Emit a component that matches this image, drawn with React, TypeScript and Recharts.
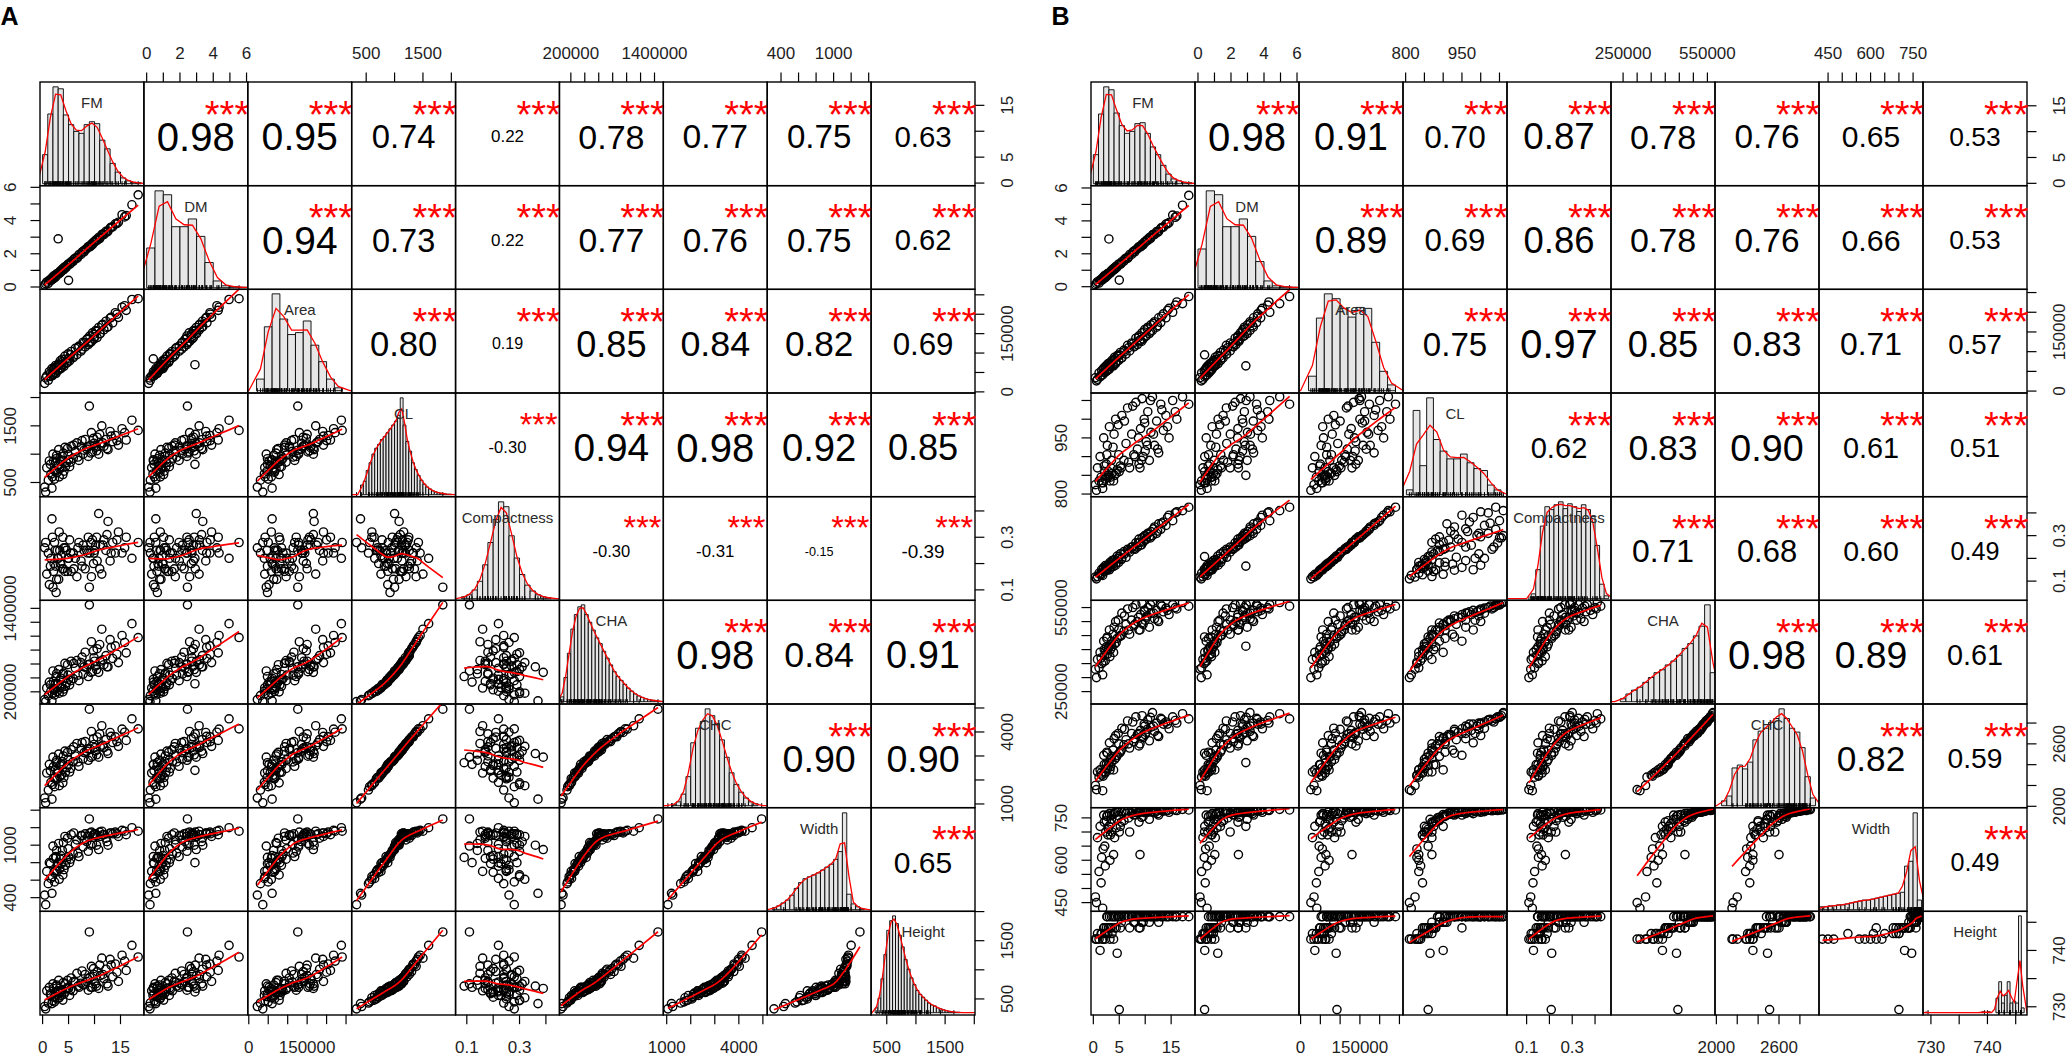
import React from 'react'
import { ScatterChart, Scatter, XAxis, YAxis, ReferenceArea } from 'recharts'

const FONT = '"Liberation Sans", Arial, Helvetica, sans-serif'

// ---------- data ----------
const varNames = ['FM', 'DM', 'Area', 'CL', 'Compactness', 'CHA', 'CHC', 'Width', 'Height']

// fresh / dry mass (same objects in A and B)
const fm = [
  0.4, 0.8, 1.1, 1.3, 1.6, 1.8, 2.0, 2.2, 2.3, 2.5,
  2.6, 2.8, 2.9, 3.1, 3.2, 3.4, 3.6, 3.8, 4.1, 4.3,
  4.6, 4.9, 5.2, 5.5, 5.9, 6.3, 6.6, 7.0, 7.4, 7.8,
  8.2, 8.5, 8.8, 9.1, 9.4, 9.6, 9.9, 10.2, 10.5, 10.8,
  11.1, 11.4, 11.8, 12.2, 12.6, 13.0, 13.5, 14.0, 14.6, 15.3,
  16.1, 17.2, 18.4, 3.0, 5.0, 9.0,
  1.5, 1.9, 2.1, 2.4, 2.7, 3.3, 3.5, 3.9, 4.0, 4.4,
  4.8, 5.4, 6.0, 6.8, 7.6, 8.0, 8.7, 9.3, 9.8, 10.0,
  10.4, 11.0, 11.6, 12.4, 13.2, 14.3, 15.8, 0.6,
]
const dm = [
  0.12, 0.30, 0.22, 0.41, 0.38, 0.55, 0.50, 0.68, 0.55, 0.72,
  0.64, 0.80, 0.74, 0.86, 0.82, 0.95, 0.93, 1.08, 1.05, 1.22,
  1.20, 1.38, 1.36, 1.52, 1.55, 1.74, 1.72, 1.95, 1.96, 2.15,
  2.25, 2.30, 2.42, 2.42, 2.58, 2.55, 2.72, 2.80, 2.81, 2.98,
  3.00, 3.15, 3.16, 3.35, 3.37, 3.55, 3.62, 3.80, 3.90, 4.35,
  4.30, 4.95, 5.55, 2.90, 0.40, 2.45,
  0.44, 0.46, 0.62, 0.60, 0.78, 0.84, 0.98, 1.02, 1.12, 1.15,
  1.32, 1.42, 1.66, 1.80, 2.10, 2.12, 2.40, 2.48, 2.68, 2.70,
  2.86, 2.92, 3.18, 3.30, 3.60, 3.82, 4.22, 0.20,
]

// panel A measurements
const areaA = [
  22000, 41000, 30000, 52000, 40000, 60000, 45000, 62000, 50000, 68000,
  48000, 66000, 55000, 72000, 58000, 80000, 62000, 84000, 66000, 92000,
  74000, 98000, 80000, 104000, 88000, 112000, 96000, 118000, 105000, 128000,
  116000, 135000, 122000, 144000, 130000, 152000, 136000, 158000, 140000, 166000,
  150000, 172000, 160000, 182000, 168000, 190000, 178000, 204000, 192000, 218000,
  210000, 238000, 240000, 70000, 85000, 126000,
  48000, 42000, 58000, 47000, 64000, 70000, 60000, 78000, 70000, 84000,
  76000, 96000, 92000, 114000, 110000, 126000, 138000, 128000, 148000, 142000,
  156000, 150000, 174000, 166000, 192000, 200000, 222000, 36000,
]
const clA = [
  420, 760, 540, 880, 650, 400, 1000, 720, 560, 850,
  920, 680, 790, 1080, 600, 870, 760, 960, 700, 1120,
  850, 990, 780, 1140, 930, 1050, 1200, 890, 1130, 1000,
  1260, 1090, 960, 1150, 1380, 1040, 1190, 1120, 1300, 1000,
  1180, 1500, 1140, 1260, 1080, 1400, 1220, 1330, 1160, 1450,
  1250, 1600, 1420, 820, 900, 1850,
  820, 600, 880, 700, 980, 740, 900, 640, 1020, 780,
  1100, 860, 1160, 950, 1240, 1070, 1130, 1020, 1280, 1150,
  1060, 1350, 1200, 1100, 1320, 1240, 1380, 330,
]
const compA = [
  0.26, 0.16, 0.24, 0.12, 0.22, 0.37, 0.11, 0.20, 0.28, 0.19,
  0.09, 0.25, 0.22, 0.14, 0.32, 0.20, 0.23, 0.18, 0.26, 0.17,
  0.25, 0.22, 0.29, 0.17, 0.24, 0.22, 0.15, 0.28, 0.21, 0.27,
  0.18, 0.25, 0.30, 0.24, 0.15, 0.29, 0.24, 0.27, 0.21, 0.39,
  0.27, 0.16, 0.29, 0.25, 0.36, 0.21, 0.28, 0.24, 0.32, 0.24,
  0.30, 0.22, 0.28, 0.22, 0.22, 0.11,
  0.19, 0.30, 0.17, 0.25, 0.14, 0.25, 0.20, 0.30, 0.18, 0.26,
  0.17, 0.24, 0.18, 0.26, 0.19, 0.25, 0.24, 0.28, 0.20, 0.25,
  0.30, 0.18, 0.27, 0.31, 0.24, 0.29, 0.26, 0.28,
]
const chaA = [
  88000, 255000, 145000, 340000, 210000, 70000, 500000, 230000, 155000, 320000,
  420000, 205000, 310000, 520000, 180000, 370000, 260000, 450000, 240000, 610000,
  330000, 440000, 300000, 640000, 390000, 540000, 650000, 360000, 620000, 455000,
  770000, 540000, 420000, 600000, 920000, 490000, 690000, 570000, 820000, 480000,
  640000, 1100000, 590000, 720000, 560000, 950000, 680000, 860000, 620000, 1010000,
  760000, 1180000, 980000, 316000, 380000, 1450000,
  300000, 175000, 350000, 240000, 460000, 265000, 395000, 200000, 470000, 280000,
  590000, 360000, 610000, 440000, 700000, 560000, 590000, 480000, 790000, 640000,
  520000, 880000, 660000, 560000, 840000, 740000, 910000, 60000,
]
const chcA = [
  1250, 2290, 1580, 2650, 1900, 1200, 2950, 2080, 1720, 2440,
  2720, 2050, 2290, 3080, 1760, 2600, 2200, 2760, 2110, 3200,
  2520, 2850, 2330, 3260, 2760, 3000, 3520, 2570, 3320, 2880,
  3600, 3200, 2820, 3290, 4020, 2990, 3480, 3210, 3790, 2950,
  3380, 4260, 3350, 3680, 3100, 3980, 3560, 3800, 3400, 4120,
  3650, 4550, 4130, 2400, 2640, 4950,
  2380, 1810, 2560, 2100, 2820, 2150, 2660, 1880, 3000, 2320,
  3150, 2480, 3380, 2750, 3560, 3140, 3300, 2940, 3720, 3350,
  3050, 3920, 3450, 3200, 3820, 3600, 3990, 1050,
]
const widthA = [
  430, 700, 560, 800, 620, 450, 990, 690, 580, 870,
  860, 700, 760, 1020, 610, 840, 790, 940, 720, 1100,
  830, 960, 800, 1120, 900, 1010, 1060, 870, 1110, 980,
  1130, 1040, 930, 1140, 1150, 1020, 1090, 1130, 1110, 950,
  1100, 1160, 1120, 1080, 1000, 1140, 1130, 1150, 1100, 1170,
  1120, 1200, 1160, 800, 870, 1300,
  790, 640, 850, 710, 940, 730, 880, 660, 1030, 770,
  1080, 840, 1140, 910, 1110, 1060, 1100, 1000, 1120, 1130,
  1000, 1150, 1120, 1040, 1140, 1130, 1160, 320,
]
const heightA = [
  370, 640, 430, 700, 560, 420, 760, 530, 450, 610,
  720, 500, 640, 820, 520, 610, 560, 660, 580, 760,
  680, 690, 560, 860, 640, 790, 940, 700, 770, 750,
  920, 800, 650, 870, 1060, 700, 920, 760, 970, 680,
  900, 1200, 850, 1010, 720, 1180, 880, 1100, 800, 1250,
  990, 1420, 1220, 620, 680, 1650,
  590, 470, 680, 540, 740, 600, 630, 480, 780, 620,
  820, 660, 800, 720, 980, 740, 850, 700, 1020, 800,
  720, 1080, 920, 760, 1080, 960, 1150, 330,
]

// panel B measurements
const areaB = [
  34000, 30000, 46000, 36000, 52000, 41000, 58000, 47000, 62000, 50000,
  66000, 54000, 70000, 56000, 72000, 62000, 78000, 66000, 86000, 70000,
  90000, 78000, 98000, 84000, 104000, 94000, 116000, 102000, 122000, 112000,
  134000, 118000, 140000, 128000, 148000, 132000, 156000, 140000, 162000, 146000,
  168000, 154000, 176000, 162000, 186000, 174000, 196000, 186000, 210000, 200000,
  226000, 222000, 240000, 64000, 92000, 130000,
  40000, 55000, 48000, 60000, 52000, 68000, 74000, 64000, 80000, 74000,
  88000, 84000, 100000, 110000, 120000, 114000, 136000, 126000, 150000, 138000,
  158000, 150000, 172000, 166000, 190000, 205000, 218000, 26000,
]
const clB = [
  825, 870, 835, 900, 830, 815, 950, 860, 840, 880,
  905, 845, 860, 980, 835, 870, 855, 925, 850, 1000,
  865, 905, 875, 1010, 890, 935, 1030, 870, 960, 905,
  1045, 920, 880, 975, 1055, 900, 990, 940, 1020, 890,
  965, 1060, 930, 995, 910, 1040, 970, 1010, 950, 1050,
  1000, 1060, 1040, 850, 860, 870,
  845, 830, 875, 850, 930, 845, 890, 835, 960, 855,
  985, 870, 995, 885, 1035, 900, 950, 890, 1000, 915,
  930, 1050, 960, 920, 1025, 980, 1020, 810,
]
const compB = [
  0.118, 0.120, 0.135, 0.130, 0.152, 0.125, 0.160, 0.145, 0.168, 0.150,
  0.165, 0.155, 0.172, 0.150, 0.182, 0.160, 0.190, 0.175, 0.195, 0.170,
  0.210, 0.183, 0.220, 0.200, 0.230, 0.205, 0.240, 0.228, 0.250, 0.243,
  0.268, 0.250, 0.285, 0.258, 0.290, 0.272, 0.300, 0.285, 0.310, 0.295,
  0.318, 0.300, 0.338, 0.310, 0.352, 0.328, 0.360, 0.345, 0.390, 0.366,
  0.405, 0.410, 0.425, 0.166, 0.208, 0.270,
  0.128, 0.152, 0.142, 0.160, 0.148, 0.172, 0.180, 0.165, 0.190, 0.180,
  0.200, 0.195, 0.220, 0.235, 0.250, 0.240, 0.270, 0.260, 0.295, 0.280,
  0.305, 0.290, 0.330, 0.320, 0.355, 0.380, 0.400, 0.110,
]
const chaB = [
  330000, 365000, 335000, 390000, 350000, 310000, 430000, 380000, 360000, 410000,
  440000, 385000, 405000, 470000, 375000, 420000, 410000, 455000, 420000, 500000,
  440000, 470000, 450000, 530000, 465000, 490000, 545000, 455000, 505000, 485000,
  560000, 500000, 470000, 525000, 565000, 490000, 535000, 515000, 550000, 480000,
  530000, 570000, 510000, 540000, 500000, 560000, 535000, 548000, 525000, 560000,
  545000, 568000, 555000, 412000, 445000, 470000,
  370000, 355000, 400000, 395000, 445000, 400000, 430000, 390000, 480000, 425000,
  505000, 450000, 520000, 470000, 550000, 490000, 515000, 495000, 540000, 505000,
  520000, 560000, 530000, 505000, 555000, 540000, 550000, 300000,
]
const chcB = [
  2200, 2330, 2280, 2350, 2300, 2150, 2490, 2330, 2320, 2400,
  2520, 2370, 2390, 2610, 2350, 2460, 2430, 2540, 2450, 2680,
  2490, 2600, 2520, 2750, 2590, 2640, 2820, 2560, 2700, 2620,
  2860, 2690, 2580, 2730, 2870, 2660, 2770, 2710, 2830, 2630,
  2760, 2900, 2720, 2800, 2670, 2845, 2790, 2810, 2745, 2860,
  2800, 2890, 2840, 2420, 2510, 2600,
  2320, 2290, 2400, 2360, 2510, 2380, 2480, 2350, 2650, 2470,
  2700, 2540, 2740, 2600, 2810, 2650, 2700, 2670, 2790, 2690,
  2740, 2855, 2770, 2680, 2835, 2790, 2825, 2160,
]
const widthB = [
  470, 680, 560, 720, 610, 430, 760, 650, 580, 740,
  755, 690, 710, 765, 600, 730, 700, 762, 680, 770,
  745, 758, 720, 772, 740, 765, 775, 700, 766, 760,
  776, 768, 735, 770, 778, 755, 772, 770, 777, 745,
  771, 779, 768, 774, 760, 778, 774, 776, 770, 779,
  776, 780, 778, 720, 700, 620,
  520, 640, 735, 700, 760, 690, 745, 620, 766, 715,
  772, 735, 774, 750, 777, 762, 770, 752, 775, 768,
  770, 778, 773, 765, 777, 776, 778, 450,
]
const heightB = [
  742, 743, 742, 740, 743, 742, 744, 743, 742, 744,
  746, 743, 744, 746, 742, 744, 743, 746, 744, 746,
  739.5, 746, 744, 746, 746, 746, 746, 744, 746, 745,
  746, 746, 744, 746, 746, 745, 746, 746, 746, 745,
  746, 746, 746, 746, 745, 746, 746, 746, 746, 746,
  746, 746, 746, 744, 729.5, 744,
  743, 742, 744, 743, 746, 744, 746, 742, 746, 744,
  746, 745, 746, 746, 746, 745, 746, 745, 746, 746,
  746, 746, 746, 746, 746, 746, 746, 742,
]

// axis ranges, ticks and printed tick labels
const domainsA = [
  [-0.5, 19.5], [-0.16, 6.08], [-2000, 265000], [250, 2080], [0.059, 0.453],
  [30000, 1520000], [846, 5166], [240, 1425], [230, 2010],
]
const ticksA = [
  [0, 5, 10, 15], [0, 1, 2, 3, 4, 5, 6], [0, 50000, 100000, 150000, 200000, 250000],
  [500, 1000, 1500, 2000], [0.1, 0.2, 0.3, 0.4],
  [200000, 400000, 600000, 800000, 1000000, 1200000, 1400000],
  [1000, 2000, 3000, 4000, 5000], [400, 600, 800, 1000, 1200, 1400], [500, 1000, 1500, 2000],
]
const tickLabelsA = [
  [0, 5, 15], [0, 2, 4, 6], [0, 150000], [500, 1500], [0.1, 0.3],
  [200000, 1400000], [1000, 4000], [400, 1000], [500, 1500],
]
const domainsB = [
  [-0.45, 19.6], [-0.18, 6.12], [-4000, 259000], [793, 1070], [0.014, 0.47],
  [207000, 577000], [1987, 2983], [418, 785], [728.6, 747],
]
const ticksB = [
  [0, 5, 10, 15], [0, 1, 2, 3, 4, 5, 6], [0, 50000, 100000, 150000, 200000, 250000],
  [800, 850, 900, 950, 1000, 1050], [0.1, 0.2, 0.3, 0.4],
  [250000, 300000, 350000, 400000, 450000, 500000, 550000],
  [2000, 2200, 2400, 2600, 2800], [450, 500, 550, 600, 650, 700, 750], [730, 735, 740, 745],
]
const tickLabelsB = [
  [0, 5, 15], [0, 2, 4, 6], [0, 150000], [800, 950], [0.1, 0.3],
  [250000, 550000], [2000, 2600], [450, 600, 750], [730, 740],
]

// correlations, upper triangle, row by row
const corA = [
  [0.98, 0.95, 0.74, 0.22, 0.78, 0.77, 0.75, 0.63],
  [0.94, 0.73, 0.22, 0.77, 0.76, 0.75, 0.62],
  [0.80, 0.19, 0.85, 0.84, 0.82, 0.69],
  [-0.30, 0.94, 0.98, 0.92, 0.85],
  [-0.30, -0.31, -0.15, -0.39],
  [0.98, 0.84, 0.91],
  [0.90, 0.90],
  [0.65],
]
const corB = [
  [0.98, 0.91, 0.70, 0.87, 0.78, 0.76, 0.65, 0.53],
  [0.89, 0.69, 0.86, 0.78, 0.76, 0.66, 0.53],
  [0.75, 0.97, 0.85, 0.83, 0.71, 0.57],
  [0.62, 0.83, 0.90, 0.61, 0.51],
  [0.71, 0.68, 0.60, 0.49],
  [0.98, 0.89, 0.61],
  [0.82, 0.59],
  [0.49],
]
const signif = '***'

// histograms on the diagonal (first break, bin width, relative heights)
const histStartA = [0, 0, 20000, 400, 0.08, 50000, 1200, 300, 300]
const histWidthA = [1, 0.5, 20000, 50, 0.02, 50000, 200, 50, 50]
const histA = [
  [0.3, 0.72, 1.0, 0.98, 0.71, 0.61, 0.54, 0.52, 0.61, 0.64, 0.62, 0.45, 0.36, 0.21, 0.12, 0.06, 0.03, 0.015, 0.01],
  [0.41, 1.0, 0.96, 0.63, 0.63, 0.71, 0.53, 0.26, 0.07, 0.02, 0.01, 0.005],
  [0.12, 0.66, 1.0, 0.74, 0.58, 0.6, 0.72, 0.47, 0.3, 0.12, 0.03],
  [0.1, 0.14, 0.25, 0.33, 0.42, 0.48, 0.52, 0.57, 0.6, 0.64, 0.68, 0.72, 0.76, 0.82, 1.0, 0.72,
    0.55, 0.45, 0.33, 0.26, 0.2, 0.15, 0.11, 0.08, 0.06, 0.04, 0.03, 0.02, 0.015, 0.01, 0.005, 0.005],
  [0.02, 0.04, 0.09, 0.18, 0.35, 0.58, 0.82, 1.0, 0.95, 0.65, 0.42, 0.25, 0.14, 0.08, 0.04, 0.02, 0.01],
  [0.05, 0.25, 0.5, 0.75, 0.9, 0.98, 1.0, 0.9, 0.82, 0.74, 0.66, 0.6, 0.52, 0.45, 0.38, 0.31, 0.26,
    0.22, 0.18, 0.14, 0.11, 0.08, 0.06, 0.045, 0.03, 0.02, 0.015, 0.01, 0.005],
  [0.01, 0.04, 0.12, 0.3, 0.65, 0.8, 0.87, 1.0, 0.93, 0.85, 0.68, 0.5, 0.34, 0.22, 0.14, 0.08, 0.04, 0.02],
  [0.02, 0.04, 0.07, 0.1, 0.15, 0.22, 0.28, 0.32, 0.34, 0.36, 0.38, 0.41, 0.44, 0.47, 0.52, 0.6, 1.0, 0.16, 0.06, 0.03, 0.01],
  [0.05, 0.15, 0.35, 0.6, 0.85, 0.95, 1.0, 0.92, 0.8, 0.68, 0.55, 0.45, 0.36, 0.29, 0.23, 0.19, 0.16,
    0.13, 0.1, 0.08, 0.07, 0.05, 0.04, 0.03, 0.02, 0.015, 0.01, 0.005, 0.005],
]
const histStartB = [0, 0, 20000, 802, 0.12, 240000, 2050, 420, 728.5]
const histWidthB = [1, 0.5, 20000, 18, 0.02, 20000, 50, 15, 0.5]
const histB = [
  [0.3, 0.72, 1.0, 0.97, 0.73, 0.6, 0.52, 0.54, 0.62, 0.63, 0.52, 0.38, 0.3, 0.19, 0.1, 0.05, 0.03, 0.015, 0.01],
  [0.4, 1.0, 0.96, 0.63, 0.63, 0.71, 0.53, 0.27, 0.07, 0.02, 0.01, 0.005],
  [0.15, 0.75, 1.0, 0.95, 0.85, 0.76, 0.86, 0.85, 0.5, 0.2, 0.06],
  [0.05, 0.87, 0.3, 1.0, 0.57, 0.45, 0.37, 0.37, 0.42, 0.33, 0.27, 0.25, 0.1, 0.05],
  [0.05, 0.3, 0.75, 0.95, 0.92, 0.97, 1.0, 0.93, 0.98, 0.95, 0.9, 0.97, 0.92, 0.85, 0.55, 0.15, 0.03],
  [0.03, 0.08, 0.12, 0.15, 0.2, 0.25, 0.3, 0.33, 0.38, 0.42, 0.48, 0.55, 0.6, 0.68, 0.78, 1.0, 0.3],
  [0.05, 0.1, 0.39, 0.42, 0.38, 0.45, 0.68, 0.77, 0.8, 0.86, 0.9, 1.0, 0.9, 0.8, 0.76, 0.6, 0.3, 0.08],
  [0.03, 0.03, 0.04, 0.04, 0.05, 0.05, 0.06, 0.07, 0.08, 0.09, 0.1, 0.1, 0.11, 0.12, 0.13, 0.14,
    0.15, 0.16, 0.17, 0.18, 0.45, 0.5, 1.0, 0.1],
  [0, 0.005, 0, 0, 0, 0, 0, 0, 0, 0, 0, 0, 0, 0, 0, 0, 0, 0, 0, 0,
    0, 0.01, 0, 0.01, 0, 0, 0.15, 0.32, 0.1, 0.18, 0.32, 0.1, 0.12, 0.1, 1.0, 0.05],
]

// ---------- layout ----------
type Matrix = {
  letter: string
  letterX: number
  left: number
  top: number
  cw: number
  ch: number
  obs: number[][]
  domains: number[][]
  ticks: number[][]
  tickLabels: number[][]
  cor: number[][]
  histStart: number[]
  histWidth: number[]
  hist: number[][]
}

const matrixA: Matrix = {
  letter: 'A', letterX: 0.5, left: 40, top: 82, cw: 935 / 9, ch: 933 / 9,
  obs: [fm, dm, areaA, clA, compA, chaA, chcA, widthA, heightA],
  domains: domainsA, ticks: ticksA, tickLabels: tickLabelsA, cor: corA,
  histStart: histStartA, histWidth: histWidthA, hist: histA,
}
const matrixB: Matrix = {
  letter: 'B', letterX: 1051.5, left: 1091, top: 82, cw: 936 / 9, ch: 933 / 9,
  obs: [fm, dm, areaB, clB, compB, chaB, chcB, widthB, heightB],
  domains: domainsB, ticks: ticksB, tickLabels: tickLabelsB, cor: corB,
  histStart: histStartB, histWidth: histWidthB, hist: histB,
}

const N = varNames.length
const AX = 50
const HIST_DOMAIN = [-0.02, 1.05]

// R's lowess (f = 2/3, 3 robustness iterations), used by panel.smooth
function lowess(xs: number[], ys: number[], f = 2 / 3, iter = 3) {
  const n = xs.length
  const idx = xs.map((_, k) => k).sort((a, b) => xs[a] - xs[b])
  const x = idx.map(k => xs[k])
  const y = idx.map(k => ys[k])
  const r = Math.max(2, Math.ceil(f * n))
  let rob = new Array(n).fill(1)
  const fit = new Array(n).fill(0)
  for (let it = 0; it <= iter; it++) {
    for (let i = 0; i < n; i++) {
      const d = x.map(v => Math.abs(v - x[i]))
      const h = Math.max([...d].sort((a, b) => a - b)[r - 1], 1e-12)
      let sw = 0, sx = 0, sy = 0, sxx = 0, sxy = 0
      for (let k = 0; k < n; k++) {
        const u = d[k] / h
        const w = (u < 1 ? Math.pow(1 - u * u * u, 3) : 0) * rob[k]
        sw += w; sx += w * x[k]; sy += w * y[k]; sxx += w * x[k] * x[k]; sxy += w * x[k] * y[k]
      }
      if (sw <= 0) { fit[i] = y[i]; continue }
      const mx = sx / sw, my = sy / sw
      const vx = sxx / sw - mx * mx
      const b = vx > 1e-10 * (mx * mx + 1) ? (sxy / sw - mx * my) / vx : 0
      fit[i] = my + b * (x[i] - mx)
    }
    if (it === iter) break
    const res = y.map((v, k) => Math.abs(v - fit[k]))
    const med = [...res].sort((a, b) => a - b)[Math.floor(n / 2)]
    const s = 6 * med
    rob = res.map(e => {
      if (s <= 0) return 1
      const u = e / s
      return u < 1 ? (1 - u * u) * (1 - u * u) : 0
    })
  }
  return x.map((v, k) => ({ x: v, y: fit[k] }))
}

// red density line drawn through the (lightly smoothed) bar heights
function densityPoints(start: number, width: number, h: number[], lo: number, hi: number) {
  const pts = h.map((v, k) => ({
    x: start + (k + 0.5) * width,
    y: 0.25 * (h[k - 1] ?? 0) + 0.5 * v + 0.25 * (h[k + 1] ?? 0),
  }))
  const first = { x: start - width, y: 0 }
  const last = { x: start + (h.length + 1) * width, y: 0 }
  const out = [first, ...pts, last]
  if (lo < first.x) out.unshift({ x: lo, y: 0 })
  if (hi > last.x) out.push({ x: hi, y: 0 })
  return out
}

// em widths of Arial-like glyphs
function emWidth(s: string) {
  let w = 0
  for (const c of s) w += c === '.' ? 0.278 : c === '-' ? 0.333 : 0.556
  return w
}

const EmptyShape = () => <g />
const Ring = (p: any) => (
  <circle cx={p.cx} cy={p.cy} r={4.1} fill="none" stroke="#000" strokeWidth={1.4} />
)
const RugTick = (p: any) => (
  <line x1={p.cx} x2={p.cx} y1={p.cy} y2={p.cy - 4.5} stroke="#000" strokeWidth={1} />
)

function axisTick(labels: number[], vertical: boolean) {
  return (props: any) => {
    const { x, y, payload } = props
    const v = payload.value
    if (!labels.some(l => Math.abs(l - v) <= 1e-9 * Math.max(1, Math.abs(l)))) return <g />
    return (
      <text
        x={x}
        y={y}
        dy="0.35em"
        textAnchor="middle"
        transform={vertical ? `rotate(-90 ${x} ${y})` : undefined}
        fontSize={17}
        fontFamily={FONT}
        fill="#1e1e1e"
      >
        {String(v)}
      </text>
    )
  }
}

const tickLine = { stroke: '#000', strokeWidth: 1.2 }

function Panel({ m, i, j }: { m: Matrix; i: number; j: number }) {
  const top = i === 0 && j % 2 === 1
  const bottom = i === N - 1 && j % 2 === 0
  const left = j === 0 && i % 2 === 1
  const right = j === N - 1 && i % 2 === 0
  const upper = j > i
  const diag = i === j
  if (upper && !top && !right) return null

  const mt = top ? AX : 0
  const mb = bottom ? AX : 0
  const ml = left ? AX : 0
  const mr = right ? AX : 0
  const xs = m.obs[j]
  const ys = m.obs[i]

  return (
    <div style={{ position: 'absolute', left: m.left + j * m.cw - ml, top: m.top + i * m.ch - mt }}>
      <ScatterChart
        width={m.cw + ml + mr}
        height={m.ch + mt + mb}
        margin={{ top: 0, right: 0, bottom: 0, left: 0 }}
      >
        <XAxis
          xAxisId="x"
          type="number"
          dataKey="x"
          domain={m.domains[j]}
          allowDataOverflow
          hide={!top && !bottom}
          orientation={top ? 'top' : 'bottom'}
          height={AX}
          ticks={m.ticks[j]}
          interval={0}
          tick={axisTick(m.tickLabels[j], false)}
          tickSize={9.5}
          tickMargin={top ? 19 : 22.5}
          axisLine={false}
          tickLine={tickLine}
        />
        <YAxis
          yAxisId="v"
          type="number"
          dataKey="y"
          domain={m.domains[i]}
          allowDataOverflow
          hide={!left && !right}
          orientation={left ? 'left' : 'right'}
          width={AX}
          ticks={m.ticks[i]}
          interval={0}
          tick={axisTick(m.tickLabels[i], true)}
          tickSize={9.5}
          tickMargin={left ? 20.5 : 22.5}
          axisLine={false}
          tickLine={tickLine}
        />
        {diag && (
          <YAxis yAxisId="h" type="number" dataKey="y" domain={HIST_DOMAIN} allowDataOverflow hide />
        )}

        {diag &&
          m.hist[i].map((hv, k) =>
            hv > 0 ? (
              <ReferenceArea
                key={k}
                xAxisId="x"
                yAxisId="h"
                x1={m.histStart[i] + k * m.histWidth[i]}
                x2={m.histStart[i] + (k + 1) * m.histWidth[i]}
                y1={0}
                y2={hv}
                fill="#e6e6e6"
                fillOpacity={1}
                stroke="#000"
                strokeWidth={0.9}
                ifOverflow="hidden"
              />
            ) : null
          )}
        {diag && (
          <Scatter
            xAxisId="x"
            yAxisId="h"
            data={xs.map(v => ({ x: v, y: HIST_DOMAIN[0] }))}
            shape={RugTick}
            isAnimationActive={false}
          />
        )}
        {diag && (
          <Scatter
            xAxisId="x"
            yAxisId="h"
            data={densityPoints(m.histStart[i], m.histWidth[i], m.hist[i], m.domains[i][0], m.domains[i][1])}
            shape={EmptyShape}
            line={{ stroke: '#ff0000', strokeWidth: 1.3 }}
            isAnimationActive={false}
          />
        )}

        {!upper && !diag && (
          <Scatter
            xAxisId="x"
            yAxisId="v"
            data={xs.map((v, k) => ({ x: v, y: ys[k] }))}
            shape={Ring}
            isAnimationActive={false}
          />
        )}
        {!upper && !diag && (
          <Scatter
            xAxisId="x"
            yAxisId="v"
            data={lowess(xs, ys)}
            shape={EmptyShape}
            line={{ stroke: '#ff0000', strokeWidth: 1.7 }}
            isAnimationActive={false}
          />
        )}
        {upper && <Scatter xAxisId="x" yAxisId="v" data={[]} isAnimationActive={false} />}
      </ScatterChart>
    </div>
  )
}

function Overlay({ m }: { m: Matrix }) {
  const items: React.ReactNode[] = []
  for (let i = 0; i < N; i++) {
    for (let j = 0; j < N; j++) {
      const x0 = m.left + j * m.cw
      const y0 = m.top + i * m.ch
      items.push(
        <rect key={`b${i}-${j}`} x={x0} y={y0} width={m.cw} height={m.ch} fill="none" stroke="#000" strokeWidth={1.4} />
      )
      if (i === j) {
        items.push(
          <text key={`n${i}`} x={x0 + m.cw / 2} y={y0 + 26} textAnchor="middle" fontSize={15} fontFamily={FONT} fill="#2a2a2a">
            {varNames[i]}
          </text>
        )
      }
      if (j > i) {
        const r = m.cor[i][j - i - 1]
        const txt = r.toFixed(2)
        const ew = emWidth(txt)
        const fs = (59.2 * (Math.abs(r) + 0.338)) / ew
        const sfs = 74 / ew
        items.push(
          <text key={`c${i}-${j}`} x={x0 + m.cw / 2} y={y0 + m.ch / 2 + 2.5 + 0.358 * fs} textAnchor="middle" fontSize={fs} fontFamily={FONT} fill="#000">
            {txt}
          </text>
        )
        items.push(
          <text key={`s${i}-${j}`} x={x0 + 0.8 * m.cw} y={y0 + 24 + 0.57 * sfs} textAnchor="middle" fontSize={sfs} fontFamily={FONT} fill="#ff0000">
            {signif}
          </text>
        )
      }
    }
  }
  return (
    <g>
      <text x={m.letterX} y={25} fontSize={25} fontWeight="bold" fontFamily={FONT} fill="#000">
        {m.letter}
      </text>
      {items}
    </g>
  )
}

export default function App() {
  const matrices = [matrixA, matrixB]
  return (
    <div style={{ position: 'absolute', left: 0, top: 0, width: 2068, height: 1056, background: '#fff', overflow: 'hidden' }}>
      <style>{'.recharts-surface{overflow:visible}.recharts-wrapper{overflow:visible}'}</style>
      {matrices.map(m => (
        <React.Fragment key={m.letter}>
          {varNames.map((_, i) => varNames.map((__, j) => <Panel key={`${i}-${j}`} m={m} i={i} j={j} />))}
        </React.Fragment>
      ))}
      <svg width={2068} height={1056} style={{ position: 'absolute', left: 0, top: 0, pointerEvents: 'none' }}>
        {matrices.map(m => (
          <Overlay key={m.letter} m={m} />
        ))}
      </svg>
    </div>
  )
}
